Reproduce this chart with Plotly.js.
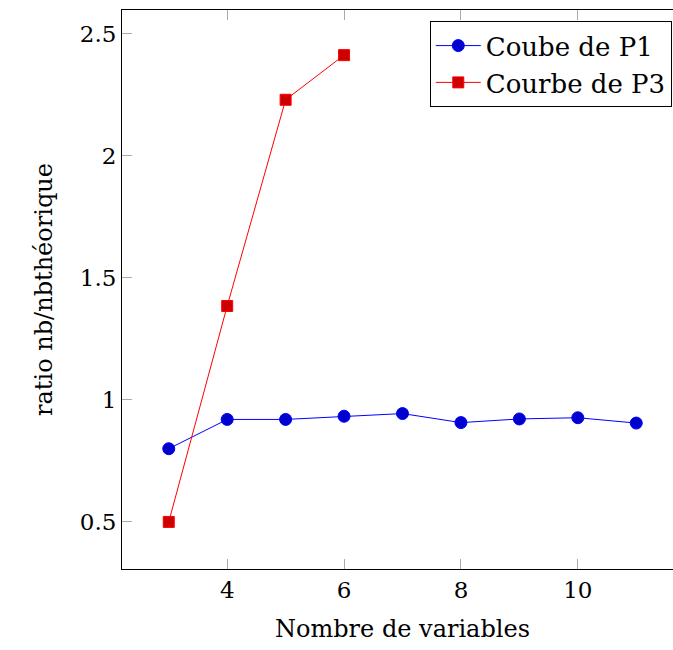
<!DOCTYPE html>
<html>
<head>
<meta charset="utf-8">
<script src="https://cdn.plot.ly/plotly-3.0.1.min.js"></script>
<style>html,body{margin:0;padding:0;overflow:hidden;background:#fff;}</style>
</head>
<body>
<div id="chart"></div>
<script>
const xP1 = [3, 4, 5, 6, 7, 8, 9, 10, 11];
const yP1 = [0.80, 0.92, 0.92, 0.933, 0.944, 0.907, 0.922, 0.927, 0.905];
const xP3 = [3, 4, 5, 6];
const yP3 = [0.50, 1.385, 2.23, 2.413];
const nameP1 = "Coube de P1";
const nameP3 = "Courbe de P3";
const xTitle = "Nombre de variables";
const yTitle = "ratio nb/nbthéorique";
const xTicks = [4, 6, 8, 10];
const yTicks = [0.5, 1, 1.5, 2, 2.5];
const yTickText = ["0.5", "1", "1.5", "2", "2.5"];

const font = "'DejaVu Serif', serif";
const traces = [
  {x: xP1, y: yP1, name: nameP1, mode: "lines+markers", type: "scatter",
   line: {color: "#0000ff", width: 1},
   marker: {symbol: "circle", size: 12, color: "#0000cc", line: {color: "#0000ff", width: 1}}},
  {x: xP3, y: yP3, name: nameP3, mode: "lines+markers", type: "scatter",
   line: {color: "#ff0000", width: 1},
   marker: {symbol: "square", size: 11, color: "#cc0000", line: {color: "#ff0000", width: 1}}}
];
const layout = {
  width: 700, height: 650,
  margin: {l: 122, r: 17, t: 10, b: 81},
  paper_bgcolor: "#fff", plot_bgcolor: "#fff",
  font: {family: font, size: 24, color: "#000"},
  showlegend: true,
  legend: {x: 0.98, y: 0.98, xanchor: "right", yanchor: "top",
           bordercolor: "#000", borderwidth: 1, bgcolor: "#fff",
           font: {family: font, size: 26}, tracegroupgap: 0, itemwidth: 45},
  xaxis: {range: [2.2, 11.8], tickvals: xTicks, ticks: "inside", ticklen: 10,
          tickcolor: "#aaa", tickwidth: 1, showgrid: false, zeroline: false,
          showline: true, linecolor: "#000", linewidth: 1, mirror: "ticks",
          tickfont: {family: font, size: 23},
          title: {text: xTitle, font: {family: font, size: 24}, standoff: 18}},
  yaxis: {range: [0.307, 2.598], tickvals: yTicks, ticktext: yTickText, ticks: "inside", ticklen: 10,
          tickcolor: "#aaa", tickwidth: 1, showgrid: false, zeroline: false,
          showline: true, linecolor: "#000", linewidth: 1, mirror: "ticks",
          tickfont: {family: font, size: 23},
          title: {text: yTitle, font: {family: font, size: 24}, standoff: 20}}
};
Plotly.newPlot("chart", traces, layout, {displayModeBar: false, staticPlot: true});
</script>
</body>
</html>
